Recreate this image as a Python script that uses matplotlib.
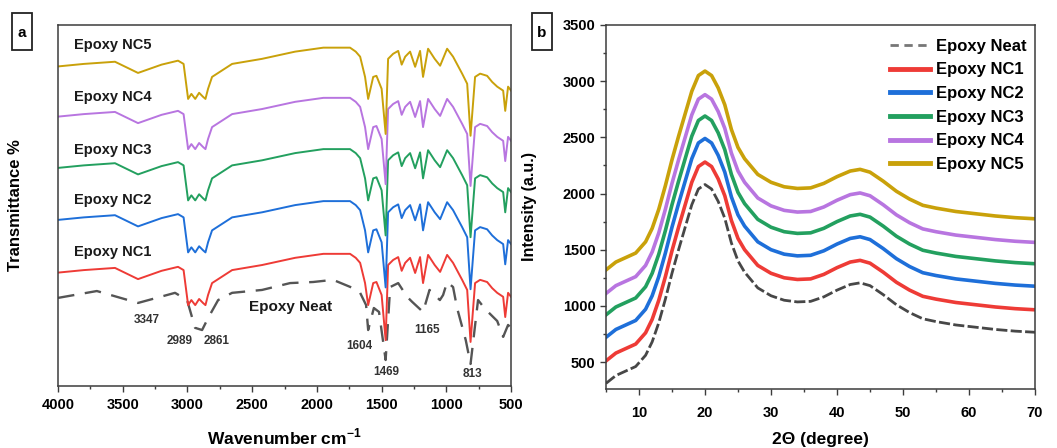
import matplotlib
matplotlib.use('Agg')
import matplotlib.pyplot as plt
from matplotlib.patches import Rectangle
from matplotlib.ticker import MultipleLocator
import numpy as np

plt.rcParams['font.family'] = ['Liberation Sans', 'DejaVu Sans']
plt.rcParams['font.weight'] = 'bold'
plt.rcParams['mathtext.fontset'] = 'custom'
plt.rcParams['mathtext.rm'] = 'Liberation Sans:bold'
plt.rcParams['mathtext.bf'] = 'Liberation Sans:bold'

# ---------------- FTIR (panel a) ----------------
# wavenumber (cm-1) and transmittance (arb.) of the nanocomposite trace (NC1 level)
ftir_wn = [4000, 3800, 3560, 3382, 3200, 3073, 3030, 2995, 2970, 2940, 2910, 2880, 2861,
           2841, 2810, 2655, 2424, 2168, 1950, 1744, 1700, 1666, 1628, 1604, 1565, 1540,
           1500, 1469, 1450, 1411, 1372, 1345, 1318, 1280, 1241, 1203, 1180, 1141, 1090,
           1048, 994, 948, 878, 839, 813, 778, 739, 685, 646, 607, 561, 545, 523, 500]
ftir_nc = [31.4, 32.1, 32.7, 29.6, 31.9, 33.0, 32.1, 22.4, 23.8, 22.4, 24.1, 23.0, 22.4,
           25.2, 28.5, 32.1, 33.5, 35.5, 36.6, 36.6, 35.5, 34.1, 28.5, 22.4, 28.5, 28.8,
           25.2, 12.7, 33.5, 34.9, 35.7, 31.9, 34.1, 35.5, 31.3, 35.7, 28.5, 36.3, 33.5,
           31.6, 36.3, 34.1, 29.4, 26.6, 12.2, 28.5, 29.4, 28.8, 27.1, 25.8, 24.7, 19.1,
           25.8, 24.7]
ftir_offsets = [0, 14.6, 29.0, 43.2, 57.1]
ftir_names = ['Epoxy NC1', 'Epoxy NC2', 'Epoxy NC3', 'Epoxy NC4', 'Epoxy NC5']

# neat epoxy (dashed, smoothed trace)
neat_wn = [4000, 3700, 3382, 3096, 3003, 2941, 2887, 2841, 2763, 2655, 2424, 2207, 2029,
           1875, 1720, 1666, 1620, 1604, 1560, 1520, 1469, 1434, 1372, 1303, 1264, 1180,
           1130, 1050, 1025, 994, 948, 917, 850, 813, 755, 700, 607, 561, 523, 500]
neat_t = [24.4, 26.3, 23.0, 25.8, 23.8, 16.1, 15.5, 18.8, 23.8, 25.8, 26.6, 28.5, 28.8,
          29.4, 27.1, 25.8, 22.4, 15.5, 21.6, 20.5, 7.2, 27.4, 28.5, 24.7, 23.3, 20.5,
          26.6, 23.8, 25.2, 28.8, 27.4, 21.6, 12.7, 6.1, 23.8, 21.3, 18.0, 13.6, 16.9, 16.1]

peak_labels = ['3347', '2989', '2861', '1604', '1469', '1165', '813']
peak_label_x = [3312, 3057, 2771, 1674, 1465, 1148, 800]
peak_label_y = [18.3, 12.5, 12.5, 11.1, 3.9, 15.5, 3.3]
ftir_label_y = [37.1, 51.5, 65.4, 80.0, 94.5]

# ---------------- XRD (panel b) ----------------
xrd_2theta = [5, 6.5, 8, 9.5, 11, 12, 13, 14, 15, 16, 17, 18, 19, 20, 21, 22, 23, 24, 25,
              26, 27, 28, 30, 32, 34, 36, 38, 40, 42, 43.5, 45, 47, 49, 51, 53, 55, 58,
              61, 64, 67, 70]
xrd_neat = [310, 380, 420, 460, 560, 680, 850, 1060, 1290, 1500, 1700, 1900, 2040, 2080,
            2040, 1930, 1780, 1560, 1400, 1300, 1230, 1160, 1090, 1050, 1035, 1040, 1080,
            1140, 1190, 1205, 1180, 1100, 1010, 940, 885, 860, 830, 810, 790, 775, 765]
xrd_offsets = [0, 200, 410, 610, 800, 1010]
xrd_names = ['Epoxy Neat', 'Epoxy NC1', 'Epoxy NC2', 'Epoxy NC3', 'Epoxy NC4', 'Epoxy NC5']

neat_color = '#474747'
colors = ['#ee3b36', '#1e6fd9', '#23a05f', '#b875e0', '#c9a10a']


def style_axes(ax):
    for s in ax.spines.values():
        s.set_color('#3c3c3c')
        s.set_linewidth(1.1)
    ax.tick_params(which='both', direction='out', color='#3c3c3c', labelsize=10.5)
    ax.tick_params(which='major', length=4, width=1)
    ax.tick_params(which='minor', length=2.5, width=1)


fig = plt.figure(figsize=(10.57, 4.48), dpi=100)

# ---- panel a ----
ax = fig.add_axes([0.0549, 0.1384, 0.4286, 0.806])
ax.plot(neat_wn, neat_t, color='#555555', lw=1.7, dashes=(7, 4.5))
for i in range(len(ftir_names)):
    y = np.array(ftir_nc) + ftir_offsets[i]
    ax.plot(ftir_wn, y, color=colors[i], lw=1.4)
    ax.text(3880, ftir_label_y[i], ftir_names[i], fontsize=10.5, fontweight='bold',
            va='center', ha='left', color='#1a1a1a')
ax.text(2207, 21.9, 'Epoxy Neat', fontsize=11, fontweight='bold', va='center', ha='center',
        color='#1a1a1a')
for lab, px, py in zip(peak_labels, peak_label_x, peak_label_y):
    ax.text(px, py, lab, fontsize=8.5, fontweight='bold', ha='center', va='center', color='#333333')
ax.set_xlim(4000, 500)
ax.set_ylim(0, 100)
ax.set_yticks([])
ax.xaxis.set_major_locator(MultipleLocator(500))
ax.xaxis.set_minor_locator(MultipleLocator(250))
style_axes(ax)
ax.tick_params(axis='x', pad=5)
ax.set_xlabel(r'Wavenumber cm$^{\mathbf{-1}}$', fontsize=12.5, fontweight='bold')
ax.set_ylabel('Transmittance %', fontsize=12, fontweight='bold')
ax.xaxis.set_label_coords(0.5, -0.112)
ax.yaxis.set_label_coords(-0.077, 0.5)

# ---- panel b ----
bx = fig.add_axes([0.5733, 0.1317, 0.4059, 0.8125])
bx.plot(xrd_2theta, np.array(xrd_neat) + xrd_offsets[0], color=neat_color, lw=2.0,
        dashes=(4, 1.2), label=xrd_names[0])
for i in range(1, len(xrd_names)):
    bx.plot(xrd_2theta, np.array(xrd_neat) + xrd_offsets[i], color=colors[i - 1], lw=2.6,
            label=xrd_names[i])
bx.set_xlim(5, 70)
bx.set_ylim(260, 3500)
bx.xaxis.set_major_locator(MultipleLocator(10))
bx.xaxis.set_minor_locator(MultipleLocator(5))
bx.yaxis.set_major_locator(MultipleLocator(500))
bx.yaxis.set_minor_locator(MultipleLocator(250))
bx.set_xticks([10, 20, 30, 40, 50, 60, 70])
style_axes(bx)
bx.tick_params(axis='x', pad=8)
bx.set_xlabel('2Θ (degree)', fontsize=12.5, fontweight='bold')
bx.set_ylabel('Intensity (a.u.)', fontsize=11.5, fontweight='bold')
bx.xaxis.set_label_coords(0.5, -0.118)
bx.yaxis.set_label_coords(-0.161, 0.5)
leg = bx.legend(loc='upper right', bbox_to_anchor=(1.0, 0.985), frameon=False,
                handlelength=2.4, handletextpad=0.35, labelspacing=0.52, borderaxespad=0.1,
                prop={'weight': 'bold', 'size': 12})
for h in leg.get_lines()[1:]:
    h.set_linewidth(3.5)
leg.get_lines()[0].set_dashes((3, 2))
leg.get_lines()[0].set_color('#777777')

# panel letters
for lx, letter in [(12, 'a'), (532, 'b')]:
    fig.patches.append(Rectangle((lx / 1057, (448 - 50) / 448), 20 / 1057, 37 / 448,
                                 transform=fig.transFigure, fill=False, ec='#222222', lw=1.3))
    fig.text((lx + 10) / 1057, (448 - 33) / 448, letter, fontsize=11, fontweight='bold',
             ha='center', va='center')

fig.savefig('out.png', dpi=100)
